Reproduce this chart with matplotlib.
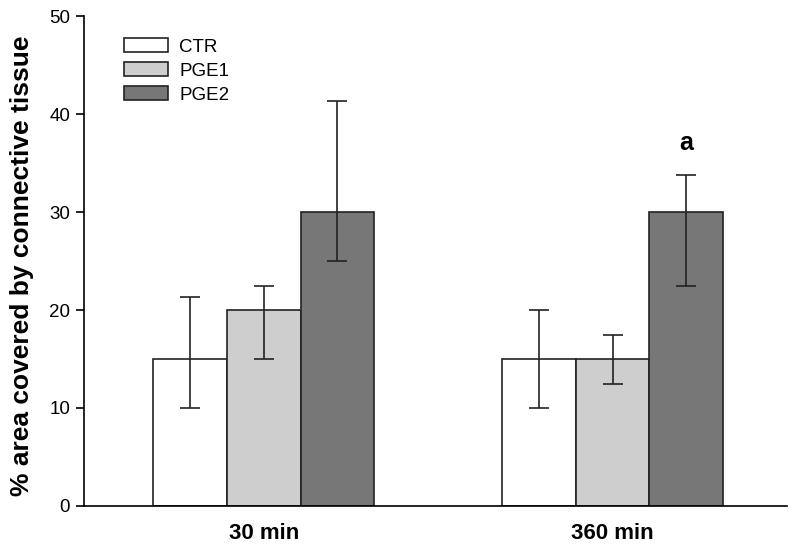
import matplotlib
matplotlib.use('Agg')
import matplotlib.pyplot as plt
import numpy as np

# data
groups = ['30 min', '360 min']
series = ['CTR', 'PGE1', 'PGE2']
colors = ['#ffffff', '#cecece', '#777777']
means = [[15, 15], [20, 15], [30, 30]]
err_low = [[10, 10], [15, 12.5], [25, 22.5]]
err_high = [[21.3, 20], [22.5, 17.5], [41.3, 33.8]]

plt.rcParams['font.family'] = ['Liberation Sans', 'DejaVu Sans']

fig = plt.figure(figsize=(7.95, 5.47), dpi=100)
ax = fig.add_axes([0.1057, 0.075, 0.8843, 0.8956])

x = np.arange(len(groups))
w = 0.211
for i, s in enumerate(series):
    pos = x + (i - 1) * w
    m = np.array(means[i])
    lo = m - np.array(err_low[i])
    hi = np.array(err_high[i]) - m
    ax.bar(pos, m, w, color=colors[i], edgecolor='#222222', linewidth=1.2, label=s, zorder=2)
    ax.errorbar(pos, m, yerr=[lo, hi], fmt='none', ecolor='#222222', elinewidth=1.2,
                capsize=7, capthick=1.2, zorder=3)

ax.text(x[1] + w, 37, 'a', ha='center', va='center', fontsize=18, fontweight='bold')

ax.set_xlim(-0.515, 1.5)
ax.set_ylim(0, 50)
ax.set_yticks([0, 10, 20, 30, 40, 50])
ax.set_xticks(x)
ax.set_xticklabels(groups, fontsize=16, fontweight='bold')
ax.tick_params(axis='x', length=0, pad=12)
ax.tick_params(axis='y', direction='out', length=6, width=1.2, labelsize=13.5, pad=4)
ax.spines['top'].set_visible(False)
ax.spines['right'].set_visible(False)
ax.spines['left'].set_linewidth(1.2)
ax.spines['bottom'].set_linewidth(1.2)
ax.set_ylabel('% area covered by connective tissue', fontsize=19, fontweight='bold')
ax.yaxis.set_label_coords(-0.071, 0.49)

ax.legend(loc='upper left', bbox_to_anchor=(0.057, 0.955), frameon=False, fontsize=13.5,
          handlelength=2.35, handleheight=0.75, labelspacing=0.36, handletextpad=0.6,
          borderaxespad=0, borderpad=0)

fig.savefig('out.png', dpi=100)
